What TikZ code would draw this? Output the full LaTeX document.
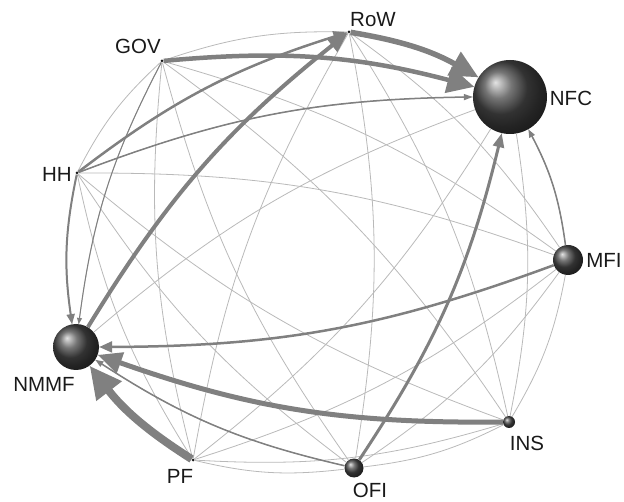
\documentclass[tikz,border=0pt]{standalone}
\usepackage{fontspec}
\setmainfont{Liberation Sans}
\usetikzlibrary{arrows.meta}
\definecolor{ink}{RGB}{25,25,25}
\definecolor{flowgray}{RGB}{128,128,128}
\definecolor{faint}{RGB}{185,185,185}
\tikzset{
  sector/.style={circle,inner sep=0pt,shading=ball,ball color=black!72},
  dot/.style={circle,fill=ink,inner sep=0pt,minimum size=3pt},
  tag/.style={font=\fontsize{20.5}{24}\selectfont,text=ink,inner sep=0pt},
  link/.style={draw=faint,line width=0.8pt,bend left=10},
  flow/.style n args={3}{draw=flowgray,line width=#1,-{Triangle[length=#2,width=#3]}}
}
\begin{document}
\begin{tikzpicture}[x=1pt,y=1pt]
  \useasboundingbox (0,0) rectangle (624,501);

  % sectors on the circle
  \node[dot] (row) at (349,469) {};
  \node[sector,minimum size=74pt] (nfc) at (510,404) {};
  \node[sector,minimum size=30pt] (mfi) at (568,241) {};
  \node[sector,minimum size=12pt] (ins) at (509,79) {};
  \node[sector,minimum size=19pt] (ofi) at (354,33) {};
  \node[dot] (pf) at (193,41) {};
  \node[sector,minimum size=46pt] (nmmf) at (76,154) {};
  \node[dot] (hh) at (77,328) {};
  \node[dot] (gov) at (162,440) {};

  \node[tag] (row-lab) at (373,481) {RoW};
  \node[tag] (nfc-lab) at (571,403) {NFC};
  \node[tag] (mfi-lab) at (604,241) {MFI};
  \node[tag] (ins-lab) at (527,58) {INS};
  \node[tag] (ofi-lab) at (370,11) {OFI};
  \node[tag] (pf-lab) at (180,25) {PF};
  \node[tag] (nmmf-lab) at (44,117) {NMMF};
  \node[tag] (hh-lab) at (57,327) {HH};
  \node[tag] (gov-lab) at (138,455) {GOV};

  % all links, bent outwards
  \draw[link] (row) to (nfc) (row) to (mfi) (row) to (ins) (row) to (ofi);
  \draw[link] (nfc) to (mfi) (nfc) to (ins) (nfc) to (ofi) (nfc) to (pf);
  \draw[link] (mfi) to (ins) (mfi) to (ofi) (mfi) to (pf) (mfi) to (nmmf);
  \draw[link] (ins) to (ofi) (ins) to (pf) (ins) to (nmmf) (ins) to (hh);
  \draw[link] (ofi) to (pf) (ofi) to (nmmf) (ofi) to (hh) (ofi) to (gov);
  \draw[link] (pf) to (nmmf) (pf) to (hh) (pf) to (gov) (pf) to (row);
  \draw[link] (nmmf) to (hh) (nmmf) to (gov) (nmmf) to (row) (nmmf) to (nfc);
  \draw[link] (hh) to (gov) (hh) to (row) (hh) to (nfc) (hh) to (mfi);
  \draw[link] (gov) to (row) (gov) to (nfc) (gov) to (mfi) (gov) to (ins);

  % main flows
  \draw[flow={1pt}{6pt}{5pt}] (gov) to[bend right=10] (nmmf);
  \draw[flow={1.5pt}{9pt}{6pt}] (hh) to[bend left=10] (nfc);
  \draw[flow={2pt}{10pt}{8pt}] (hh) to[bend right=10] (nmmf);
  \draw[flow={2.5pt}{14pt}{11pt}] (hh) to[bend left=10] (row);
  \draw[flow={1.5pt}{8pt}{6pt}] (mfi) to[bend right=10] (nfc);
  \draw[flow={1.5pt}{8pt}{6pt}] (ofi) to[bend left=10] (nmmf);
  \draw[flow={3pt}{14pt}{11pt}] (ofi) to[bend right=10] (nfc);
  \draw[flow={2.5pt}{13pt}{11pt}] (mfi) to[bend left=10] (nmmf);
  \draw[flow={4pt}{20pt}{16pt}] (nmmf) to[bend left=10] (row);
  \draw[flow={5pt}{24pt}{21pt}] (ins) to[bend left=10] (nmmf);
  \draw[flow={4.5pt}{27pt}{26pt}] (gov) to[bend left=10] (nfc);
  \draw[flow={5.5pt}{28pt}{26pt}] (row) to[bend left=10] (nfc);
  \draw[flow={8pt}{32pt}{30pt}] (pf) to[bend left=10] (nmmf);
\end{tikzpicture}
\end{document}
